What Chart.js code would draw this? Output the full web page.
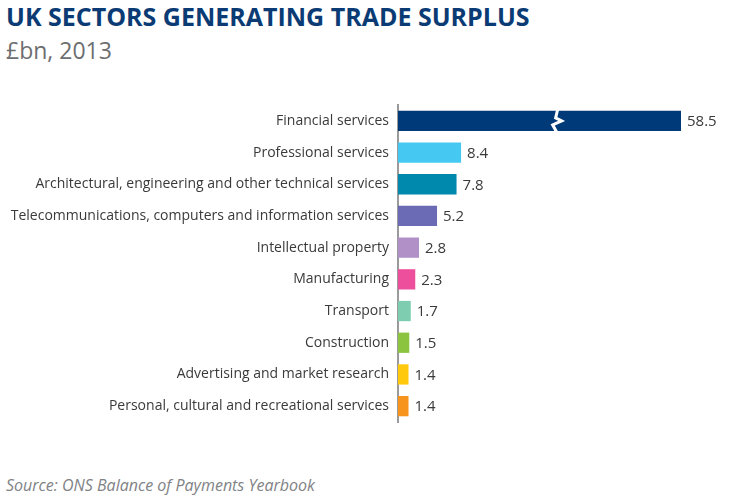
<!DOCTYPE html>
<html>
<head>
<meta charset="utf-8">
<script src="https://cdn.jsdelivr.net/npm/chart.js@4.4.1/dist/chart.umd.min.js"></script>
<style>
  html, body { margin: 0; padding: 0; background: #fff; }
  body { width: 736px; height: 504px; position: relative; overflow: hidden; font-family: "Open Sans", sans-serif; }
  #title { position: absolute; left: 6px; top: -1px; font-size: 25px; font-weight: 700; color: #0b3b74; line-height: 34px; }
  #subtitle { position: absolute; left: 6px; top: 34px; font-size: 23px; color: #6d6e70; line-height: 32px; }
  #source { position: absolute; left: 6px; top: 474px; font-size: 16px; font-style: italic; color: #808285; }
  #wrap { position: absolute; left: 0; top: 0; width: 736px; height: 504px; }
</style>
</head>
<body>
<div id="title">UK SECTORS GENERATING TRADE SURPLUS</div>
<div id="subtitle">£bn, 2013</div>
<div id="source">Source: ONS Balance of Payments Yearbook</div>
<div id="wrap"><canvas id="chart"></canvas></div>
<script>
const sectors = [
    'Financial services',
    'Professional services',
    'Architectural, engineering and other technical services',
    'Telecommunications, computers and information services',
    'Intellectual property',
    'Manufacturing',
    'Transport',
    'Construction',
    'Advertising and market research',
    'Personal, cultural and recreational services'
];
const surplus = [58.5, 8.4, 7.8, 5.2, 2.8, 2.3, 1.7, 1.5, 1.4, 1.4];
const barColours = ['#003a78', '#45c8f2', '#0089ad', '#6a6ab5', '#b190c8', '#ee4f9c', '#7ecdb0', '#8bc43f', '#ffc90e', '#f7941d'];

// axis is cut: anything past axisMax gets clipped and marked with a break
const axisMax = 37.7;
const breakAt = 21;

const valueLabels = {
    id: 'valueLabels',
    afterDatasetsDraw(chart) {
        const ctx = chart.ctx;
        const area = chart.chartArea;
        const meta = chart.getDatasetMeta(0);
        const xScale = chart.scales.x;
        ctx.save();
        meta.data.forEach((bar, i) => {
            const v = surplus[i];
            const end = Math.min(bar.x, area.right);
            // zig-zag break on bars that run off the axis
            if (v > axisMax) {
                const bx = xScale.getPixelForValue(breakAt);
                const top = bar.y - bar.height / 2 - 1;
                const bot = bar.y + bar.height / 2 + 1;
                ctx.beginPath();
                ctx.moveTo(bx + 2, top);
                ctx.lineTo(bx, bar.y - 3);
                ctx.lineTo(bx + 6, bar.y);
                ctx.lineTo(bx - 3, bar.y + 4);
                ctx.lineTo(bx + 1, bot);
                ctx.strokeStyle = '#fff';
                ctx.lineWidth = 3;
                ctx.lineJoin = 'miter';
                ctx.stroke();
            }
            ctx.fillStyle = '#3a3a3a';
            ctx.font = '15px "Open Sans"';
            ctx.textAlign = 'left';
            ctx.textBaseline = 'middle';
            ctx.fillText(v.toFixed(1), end + 6, bar.y + 1);
        });
        ctx.restore();
    }
};

new Chart(document.getElementById('chart'), {
    type: 'bar',
    data: {
        labels: sectors,
        datasets: [{
            data: surplus,
            backgroundColor: barColours,
            barPercentage: 0.8,
            categoryPercentage: 0.8,
            clip: 0
        }]
    },
    options: {
        indexAxis: 'y',
        responsive: true,
        maintainAspectRatio: false,
        animation: false,
        layout: { padding: { top: 105, right: 55, bottom: 82, left: 0 } },
        plugins: {
            legend: { display: false },
            tooltip: { enabled: false }
        },
        scales: {
            x: {
                display: false,
                min: 0,
                max: axisMax
            },
            y: {
                afterFit(scale) { scale.width = 398; },
                grid: { display: false },
                border: { display: true, color: '#9a9a9a', width: 2 },
                ticks: {
                    color: '#3a3a3a',
                    font: { family: 'Open Sans', size: 14 },
                    padding: 1
                }
            }
        }
    },
    plugins: [valueLabels]
});
</script>
</body>
</html>
